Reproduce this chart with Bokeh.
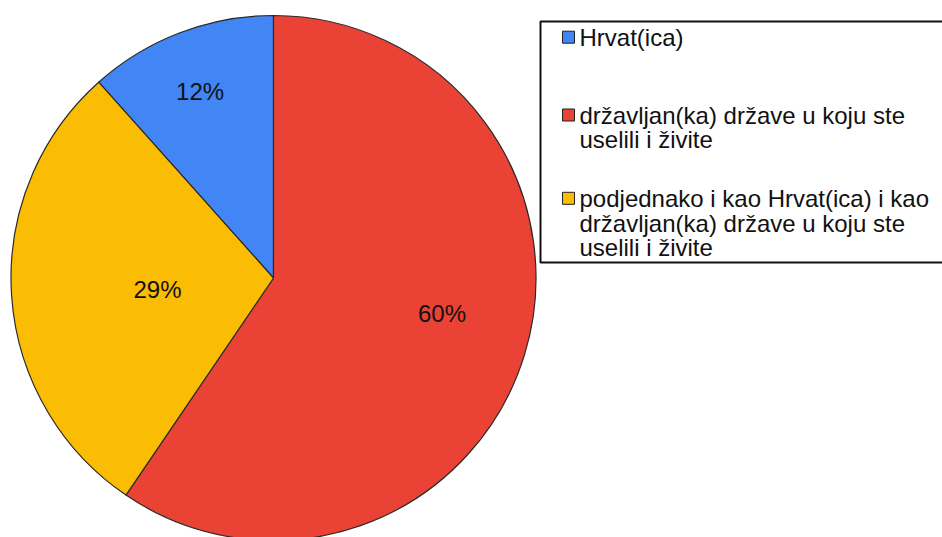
import math
from bokeh.plotting import figure
from bokeh.models import Range1d, ColumnDataSource
from bokeh.embed import file_html
from bokeh.resources import INLINE
from bokeh.core.properties import value

# ---- data ----
categories = ["Hrvat(ica)",
              "državljan(ka) države u koju ste uselili i živite",
              "podjednako i kao Hrvat(ica) i kao državljan(ka) države u koju ste uselili i živite"]
values = [11.6, 59.5, 28.9]
pct_labels = ["12%", "60%", "29%"]
colors = ["#4285F4", "#EA4335", "#FBBC04"]
legend_lines = [["Hrvat(ica)"],
                ["državljan(ka) države u koju ste", "uselili i živite"],
                ["podjednako i kao Hrvat(ica) i kao", "državljan(ka) države u koju ste", "uselili i živite"]]

# ---- layout (page pixel space, y measured downward; converted below) ----
W, H = 942, 537
def Y(py):
    return H - py

CX, CY, R = 273.0, Y(277.5), 262.5
draw_order = [1, 2, 0]          # clockwise from 12 o'clock
label_rfrac = [0.764, 0.656, 0.444]
label_shift_deg = [0.6, 5.2, 1.9]
FONT = "Liberation Sans"

p = figure(width=W, height=H, output_backend="svg", toolbar_location=None,
           x_range=Range1d(0, W), y_range=Range1d(0, H),
           x_axis_type=None, y_axis_type=None, min_border=0)
p.grid.visible = False
p.outline_line_color = None
p.background_fill_color = "white"
p.border_fill_color = "white"

total = sum(values)
starts = [0.0] * 3
ends = [0.0] * 3
lx = [0.0] * 3
ly = [0.0] * 3
acc = 0.0
for i in draw_order:
    v = values[i]
    hi = math.pi / 2 - acc / total * 2 * math.pi
    lo = hi - v / total * 2 * math.pi
    acc += v
    starts[i], ends[i] = lo, hi
    mid = (lo + hi) / 2 + math.radians(label_shift_deg[i])
    lx[i] = CX + label_rfrac[i] * R * math.cos(mid)
    ly[i] = CY + label_rfrac[i] * R * math.sin(mid)

src = ColumnDataSource(dict(start=starts, end=ends, color=colors, cat=categories,
                            lx=lx, ly=ly, lab=pct_labels))
p.wedge(x=CX, y=CY, radius=R, start_angle="start", end_angle="end", direction="anticlock",
        fill_color="color", line_color="#2a2a2a", line_width=1.2, source=src)
p.text(x="lx", y="ly", text="lab", source=src, text_align="center", text_baseline="middle",
       text_font=value(FONT), text_font_size="24px", text_color="#111111")

# ---- legend ----
box_left, box_top, box_bottom = 540, 21, 262
p.quad(left=box_left, right=980, top=Y(box_top), bottom=Y(box_bottom),
       fill_color="white", line_color="#111111", line_width=2)

first_baselines = [45.7, 123.5, 206.8]
line_step = 24.5
sq_x = 568
tx = 579
for i, lines in enumerate(legend_lines):
    b0 = first_baselines[i]
    p.rect(x=sq_x, y=Y(b0 - 9), width=12, height=12, fill_color=colors[i],
           line_color="#222222", line_width=1)
    ys = [Y(b0 + k * line_step - 8.6) for k in range(len(lines))]
    p.text(x=[tx] * len(lines), y=ys, text=lines, text_align="left",
           text_baseline="middle", text_font=value(FONT), text_font_size="24px",
           text_color="#111111")

open("out.html", "w").write(file_html(p, INLINE))
